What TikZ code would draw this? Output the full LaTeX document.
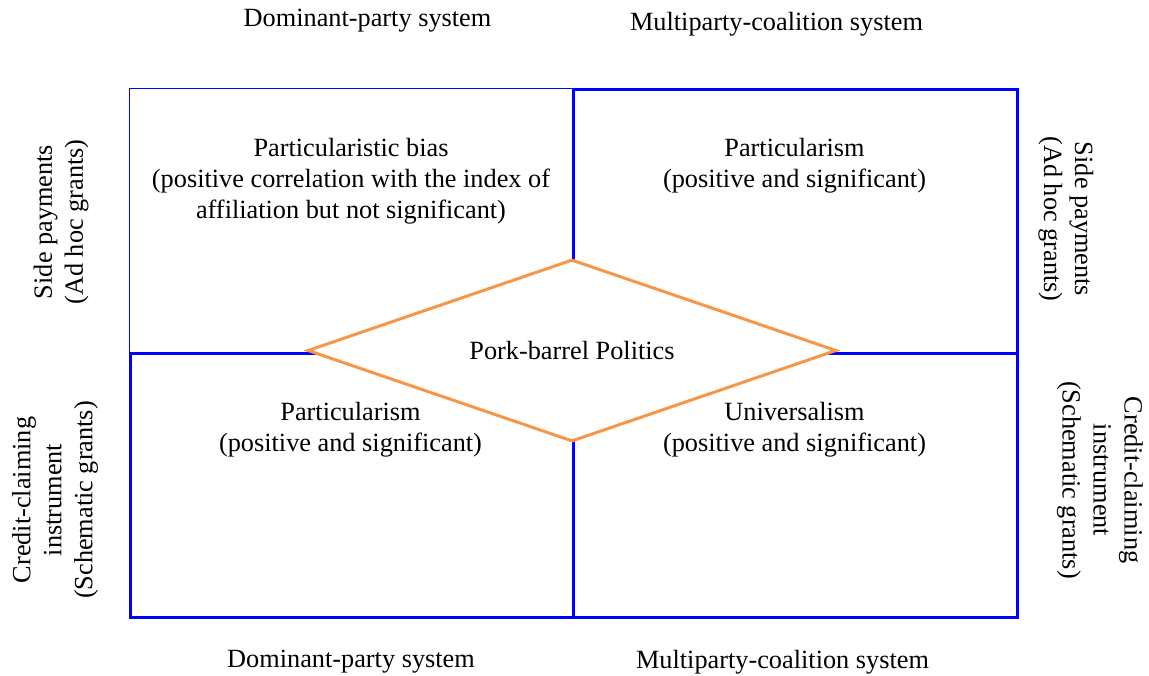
\documentclass[tikz,border=0pt]{standalone}
\usepackage{fontspec}
\setmainfont{Liberation Serif}
\usetikzlibrary{shapes.geometric}
\definecolor{gridblue}{RGB}{0,0,255}
\definecolor{porkorange}{RGB}{247,150,70}
\begin{document}
\begin{tikzpicture}[x=1pt,y=-1pt,
  lbl/.style={font=\fontsize{26.3}{31}\selectfont, align=center, inner sep=0pt},
  thinbox/.style={draw=gridblue, line width=1.2pt, minimum width=443pt, minimum height=264pt, inner sep=0pt, anchor=north west},
  thickbox/.style={draw=gridblue, line width=3pt, minimum width=444pt, minimum height=264pt, inner sep=0pt, anchor=north west},
  pork/.style={diamond, draw=porkorange, line width=3pt, fill=white, minimum width=529pt, minimum height=182pt, aspect=2.9, inner sep=0pt, font=\fontsize{26.3}{31}\selectfont}]
\useasboundingbox (0,0) rectangle (1149,675);
\node[thinbox] (tl) at (129,88) {};
\node[thickbox] (tr) at (572,88) {};
\node[thickbox, minimum width=443pt] (bl) at (129,352) {};
\node[thickbox] (br) at (572,352) {};
\node[pork] (pp) at (572,350.5) {Pork-barrel Politics};
\node[lbl] (tlt) at (351,181.5) {Particularistic bias\\(positive correlation with the index of\\affiliation but not significant)};
\node[lbl] (trt) at (794.5,166) {Particularism\\(positive and significant)};
\node[lbl] (blt) at (350.5,430) {Particularism\\(positive and significant)};
\node[lbl] (brt) at (794.5,430) {Universalism\\(positive and significant)};
\node[lbl] (top1) at (367.5,20.6) {Dominant-party system};
\node[lbl] (top2) at (776.5,24) {Multiparty-coalition system};
\node[lbl] (bot1) at (351,662) {Dominant-party system};
\node[lbl] (bot2) at (782.5,662) {Multiparty-coalition system};
\node[lbl, rotate=90] (ls1) at (61,222) {Side payments\\(Ad hoc grants)};
\node[lbl, rotate=90] (ls2) at (55,500) {Credit-claiming\\instrument\\(Schematic grants)};
\node[lbl, rotate=-90] (rs1) at (1066,219) {Side payments\\(Ad hoc grants)};
\node[lbl, rotate=-90] (rs2) at (1100,480) {Credit-claiming\\instrument\\(Schematic grants)};
\end{tikzpicture}
\end{document}
